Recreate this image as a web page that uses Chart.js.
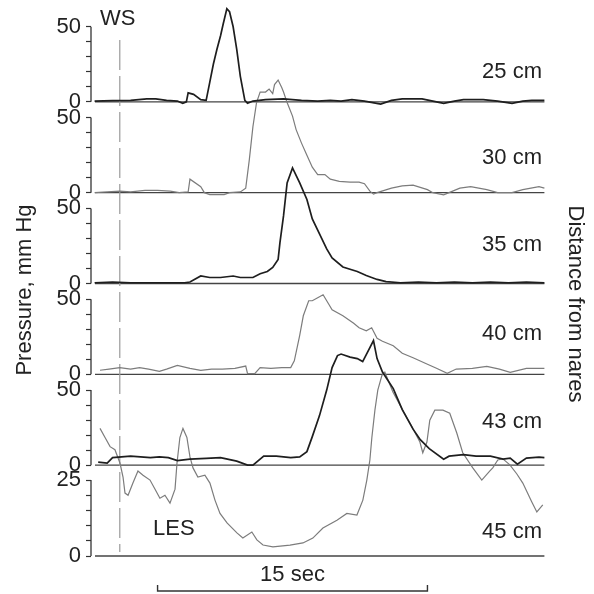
<!DOCTYPE html>
<html>
<head>
<meta charset="utf-8">
<script src="https://cdn.jsdelivr.net/npm/chart.js@4.4.1/dist/chart.umd.min.js"></script>
<style>
  html, body { margin: 0; padding: 0; background: #fff; }
  #wrap { width: 594px; height: 594px; }
</style>
</head>
<body>
<div id="wrap"><canvas id="chart" width="594" height="594"></canvas></div>
<script>
// Recording sites, distance from nares
const channels = ['25 cm', '30 cm', '35 cm', '40 cm', '43 cm', '45 cm'];

const t25 = [0, 1.0, 2.0, 2.9, 3.4, 4.0, 4.6, 4.9, 5.1, 5.2, 5.5, 5.9, 6.2, 6.4, 6.6, 6.8, 7.0, 7.15, 7.35, 7.5,
             7.7, 7.9, 8.1, 8.35, 8.5, 8.8, 9.5, 10.5, 11.5, 12.4, 13.1, 13.7, 14.3, 15.0, 15.9, 16.5, 17.1, 17.6, 18.2, 18.8,
             19.4, 20.0, 20.5, 21.1, 21.6, 22.4, 23.2, 23.8, 24.3, 25];
const p25 = [0.5, 0.8, 1, 2, 2, 1, 0.5, -1, 0, 6, 5, 1.5, 1, 13, 25, 35, 44, 52, 62, 60,
             50, 35, 17, 1, -1, 0.5, 1.5, 2, 1, 0.5, 1, 0.5, 1.5, 0.5, -1.5, 1, 2, 2, 2, 0.5,
             -1, 0.5, 1.5, 1.5, 1.5, 0.5, -1, 0.5, 1, 1];

const t30 = [0, 1.4, 2.0, 2.8, 3.5, 4.2, 4.7, 5.2, 5.3, 5.9, 6.1, 6.4, 7.2, 7.5, 8.1, 8.4, 8.6, 8.8, 9.0, 9.2,
             9.5, 9.7, 9.9, 10.0, 10.2, 10.4, 10.5, 10.7, 11.0, 11.2, 11.5, 11.8, 12.1, 12.4, 12.8, 13.1, 13.6, 14.2, 14.7, 15.0,
             15.3, 15.5, 15.7, 16.5, 17.1, 17.7, 18.5, 18.8, 19.4, 19.7, 20.3, 20.9, 21.8, 22.4, 23.2, 23.8, 24.7, 25];
const p30 = [0, 1, 0.5, 1.5, 1.5, 1, 0, 0.5, 9, 4, 0, -1.3, -1.3, 0, 0.5, 3, 22, 44, 60, 67,
             67, 69, 66, 72, 75, 70, 67, 60, 51, 42, 33, 25, 17, 12, 12, 9, 7.5, 7, 7, 6,
             1, -1, 0, 3, 4.5, 5, 2, 0, -1.5, 0, 3, 4, 2, 0, 0, 2, 4, 3];

const t35 = [0, 1, 2, 3, 4, 5, 5.3, 5.9, 6.4, 7.0, 7.7, 8.1, 8.8, 9.2, 9.6, 9.9, 10.2, 10.3, 10.5, 10.7,
             11.0, 11.4, 11.8, 12.1, 12.5, 12.9, 13.2, 13.8, 14.6, 15.1, 15.7, 16.2, 17.0, 18, 19, 20, 21, 22, 23, 24, 25];
const p35 = [0.5, 1, 0.5, 0.5, 0.5, 0.5, 1, 5, 4, 4, 5, 4, 4, 6.5, 8, 10.7, 16, 27, 45, 67,
             77, 67, 56, 43, 33, 23, 17, 11, 8, 5.3, 2.7, 1.3, 0.5, 1, 0.5, 1, 0.5, 1, 0.5, 1, 0.5];

const t40 = [0.3, 0.8, 1.4, 2.0, 2.5, 3.0, 3.6, 4.0, 4.6, 5.3, 5.9, 6.5, 7.1, 7.8, 8.4, 8.5, 8.9, 9.2, 9.8, 10.4,
             10.9, 11.1, 11.4, 11.6, 11.9, 12.1, 12.4, 12.7, 13.0, 13.2, 13.8, 14.4, 14.7, 15.1, 15.4, 15.7, 16.0, 16.6, 17.1, 17.7,
             18.5, 19.0, 19.6, 20.1, 21.0, 21.8, 22.5, 23.1, 24.0, 25];
const p40 = [2.7, 3.5, 4.5, 3.5, 4.5, 3.5, 2, 3.5, 6, 4, 2.7, 3.5, 3.5, 4, 5.5, 0.5, 0.5, 4.5, 4, 4.5,
             4.5, 9, 26, 39, 49, 49, 51, 53, 47, 43, 39, 34, 31, 29, 31, 24, 22, 19, 14, 11,
             6.7, 4, 0.7, 3.5, 4, 5.3, 3.5, 1.3, 4, 4];

const t43 = [0.2, 0.7, 1.0, 2.0, 3.1, 3.6, 4.1, 4.6, 5.3, 6.2, 7.0, 7.9, 8.5, 8.8, 9.4, 10.1, 10.9, 11.4, 11.8, 12.1,
             12.5, 12.9, 13.2, 13.5, 13.7, 14.2, 14.6, 14.9, 15.2, 15.5, 15.7, 16.0, 16.6, 17.1, 17.7, 18.1, 18.6, 19.4, 19.7, 20.5,
             21.2, 22.0, 22.7, 23.1, 23.5, 24.0, 24.7, 25];
const p43 = [2, 1.3, 5, 6, 5, 5.5, 5, 3, 4, 4.5, 5, 2.7, 0, 0, 6, 6, 5, 5.5, 9, 19,
             33, 50, 65, 73, 74, 72, 71, 69, 76, 83, 71, 62, 51, 37, 24, 17, 11, 4, 6, 7,
             6, 6, 4, 4.7, 0.7, 4.7, 5.3, 5];

const t45 = [0.3, 0.58, 0.86, 1.13, 1.41, 1.58, 1.69, 1.86, 2.13, 2.41, 2.69, 3.08, 3.36, 3.63, 3.91, 4.19, 4.47, 4.58, 4.74, 4.91,
             5.13, 5.3, 5.47, 5.74, 6.13, 6.41, 6.69, 6.97, 7.36, 7.91, 8.24, 8.74, 9.02, 9.36, 9.91, 10.86, 11.58, 12.13, 12.69, 13.47,
             14.02, 14.58, 14.91, 15.13, 15.3, 15.41, 15.58, 15.74, 15.97, 16.13, 16.58, 17.13, 17.69, 18.08, 18.24, 18.47, 18.63, 18.91, 19.36, 19.74,
             20.13, 20.46, 21.02, 21.52, 21.97, 22.13, 22.41, 22.69, 23.08, 23.47, 23.8, 24.3, 24.58, 24.91];
const p45 = [42, 39, 36, 35, 30.6, 26, 20.7, 20, 24, 28, 26.6, 25, 22, 19, 20, 17.4, 22, 30.6, 39, 42,
             39, 32.6, 29, 26, 26.6, 24, 18.4, 14, 10.9, 7.6, 5.9, 7.9, 5.3, 3.6, 3, 3.6, 4.3, 5.9, 9.2, 11.8,
             14, 13.5, 18.4, 25, 31.6, 39, 48, 54.6, 59.5, 60.5, 54, 48, 42, 37.5, 34, 37.5, 44.7, 48, 48, 47,
             40.5, 34, 29, 25, 28, 29, 31.6, 32, 30, 27, 24, 17.8, 14.5, 16.8];

// y ticks for each panel (labels only on first and last)
const ticks50 = [0, 10, 20, 30, 40, 50];
const ticks25 = [0, 5, 10, 15, 20, 25];

// event markers
const wsTime = 1.4;           // wet swallow
const scaleBarSec = [3.5, 18.5];

const DARK = '#1e1e1e';
const GRAY = '#7c7c7c';
const FONT = '"Liberation Sans", Arial, Helvetica, sans-serif';

const panels = [
  { id: 'y25', name: channels[0], t: t25, p: p25, color: DARK, width: 1.7, max: 60.5, ticks: ticks50, labelAt: 20 },
  { id: 'y30', name: channels[1], t: t30, p: p30, color: GRAY, width: 1.2, max: 60.5, ticks: ticks50, labelAt: 23 },
  { id: 'y35', name: channels[2], t: t35, p: p35, color: DARK, width: 1.7, max: 60.5, ticks: ticks50, labelAt: 26 },
  { id: 'y40', name: channels[3], t: t40, p: p40, color: GRAY, width: 1.2, max: 60.5, ticks: ticks50, labelAt: 27 },
  { id: 'y43', name: channels[4], t: t43, p: p43, color: DARK, width: 1.7, max: 60.5, ticks: ticks50, labelAt: 29 },
  { id: 'y45', name: channels[5], t: t45, p: p45, color: GRAY, width: 1.2, max: 29.9, ticks: ticks25, labelAt: 8 }
];

function pressureAxis(panel, i) {
  const top = panel.ticks[panel.ticks.length - 1];
  return {
    type: 'linear',
    position: 'left',
    stack: 'sites',
    stackWeight: 1,
    weight: panels.length - i,
    min: 0,
    max: panel.max,
    afterFit: s => {
      s.width = 60;
      // labels sit inside the panel, no extra room needed
      s.paddingTop = 0;
      s.paddingBottom = 0;
    },
    afterBuildTicks: s => { s.ticks = panel.ticks.map(v => ({ value: v })); },
    border: { display: false },
    grid: { drawOnChartArea: false, tickLength: 5, tickColor: '#333', tickWidth: 1.2 },
    ticks: {
      autoSkip: false,
      padding: 5,
      color: '#222',
      font: { family: FONT, size: 22 },
      callback: v => (v === 0 || v === top) ? String(v) : ''
    }
  };
}

// axis brackets, baselines, markers and all the loose text
const decorPlugin = {
  id: 'decor',
  beforeDatasetsDraw(chart) {
    const { ctx, chartArea, scales } = chart;
    const xs = scales.x;
    ctx.save();
    panels.forEach(panel => {
      const ys = scales[panel.id];
      const y0 = ys.getPixelForValue(0);
      const y1 = ys.getPixelForValue(panel.ticks[panel.ticks.length - 1]);
      ctx.strokeStyle = '#333';
      ctx.lineWidth = 1.3;
      ctx.beginPath();
      ctx.moveTo(chartArea.left, y1);
      ctx.lineTo(chartArea.left, y0);
      ctx.stroke();
      ctx.strokeStyle = '#444';
      ctx.lineWidth = 1.4;
      ctx.beginPath();
      ctx.moveTo(chartArea.left + 4, y0);
      ctx.lineTo(xs.getPixelForValue(25), y0);
      ctx.stroke();
    });
    // WS marker
    const wx = xs.getPixelForValue(wsTime);
    ctx.strokeStyle = '#9a9a9a';
    ctx.lineWidth = 1.2;
    ctx.setLineDash([30, 6]);
    ctx.beginPath();
    ctx.moveTo(wx, 40);
    ctx.lineTo(wx, scales.y45.getPixelForValue(0) - 4);
    ctx.stroke();
    ctx.restore();
  },
  afterDraw(chart) {
    const { ctx, scales } = chart;
    const xs = scales.x;
    ctx.save();
    ctx.fillStyle = '#222';
    ctx.font = '22px ' + FONT;
    ctx.textBaseline = 'middle';

    ctx.textAlign = 'right';
    panels.forEach(panel => {
      ctx.fillText(panel.name, 542, scales[panel.id].getPixelForValue(panel.labelAt));
    });

    ctx.textAlign = 'left';
    ctx.fillText('WS', 100, 19);
    ctx.fillText('LES', 153, 529);

    // 15 s scale bar
    const bx0 = xs.getPixelForValue(scaleBarSec[0]);
    const bx1 = xs.getPixelForValue(scaleBarSec[1]);
    ctx.strokeStyle = '#333';
    ctx.lineWidth = 1.4;
    ctx.beginPath();
    ctx.moveTo(bx0, 585);
    ctx.lineTo(bx0, 591);
    ctx.lineTo(bx1, 591);
    ctx.lineTo(bx1, 585);
    ctx.stroke();
    ctx.textAlign = 'center';
    ctx.fillText('15 sec', (bx0 + bx1) / 2, 575);

    // side titles
    ctx.save();
    ctx.translate(25, 290);
    ctx.rotate(-Math.PI / 2);
    ctx.fillText('Pressure, mm Hg', 0, 0);
    ctx.restore();

    ctx.save();
    ctx.translate(575, 304);
    ctx.rotate(Math.PI / 2);
    ctx.fillText('Distance from nares', 0, 0);
    ctx.restore();

    ctx.restore();
  }
};

const scales = {
  x: { type: 'linear', min: -0.2, max: 25.2, display: false }
};
panels.forEach((panel, i) => { scales[panel.id] = pressureAxis(panel, i); });

new Chart(document.getElementById('chart'), {
  type: 'line',
  data: {
    datasets: panels.map(panel => ({
      label: panel.name,
      data: panel.t.map((t, i) => ({ x: t, y: panel.p[i] })),
      yAxisID: panel.id,
      borderColor: panel.color,
      borderWidth: panel.width,
      pointRadius: 0,
      tension: 0,
      fill: false,
      clip: false
    }))
  },
  options: {
    responsive: false,
    animation: false,
    layout: { padding: { left: 31, right: 46, top: 11, bottom: 38 } },
    scales: scales,
    plugins: {
      legend: { display: false },
      tooltip: { enabled: false }
    }
  },
  plugins: [decorPlugin]
});
</script>
</body>
</html>
